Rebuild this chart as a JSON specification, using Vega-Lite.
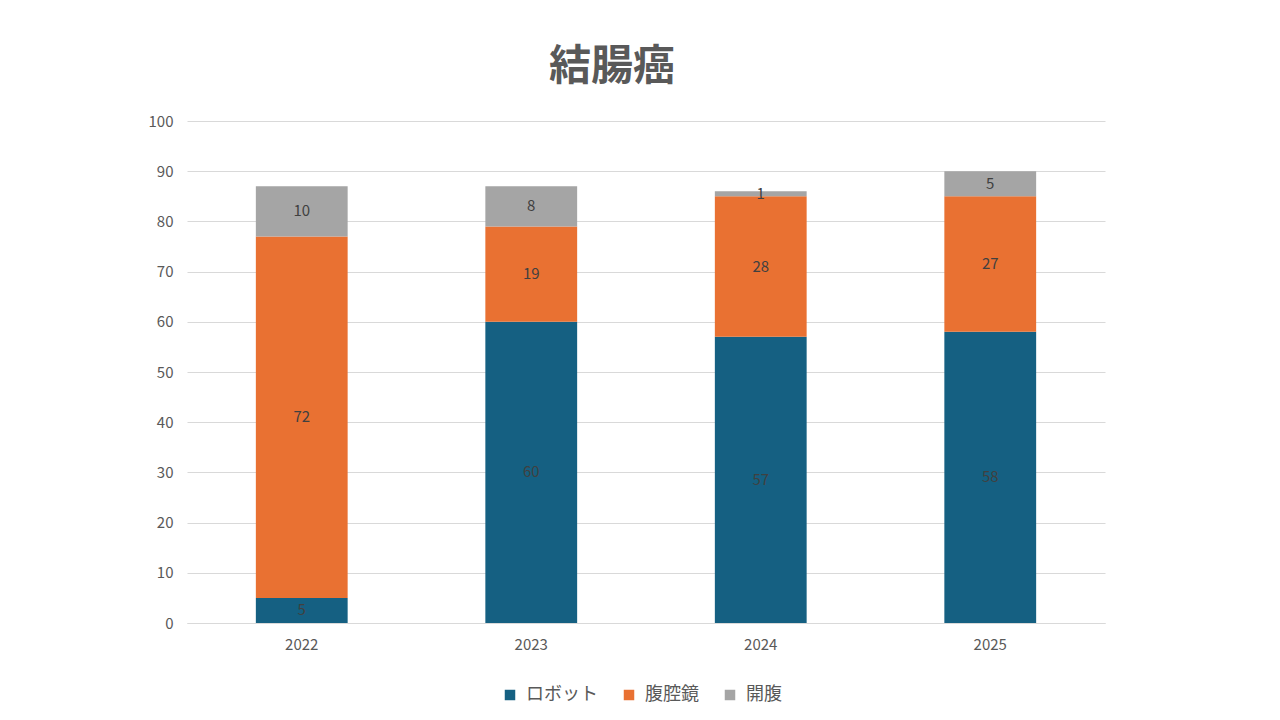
{
  "$schema": "https://vega.github.io/schema/vega-lite/v6.json",
  "width": 918,
  "height": 502,
  "autosize": {"type": "none"},
  "padding": {"left": 187, "top": 121, "right": 175, "bottom": 97},
  "background": "white",
  "title": {
    "text": "結腸癌",
    "font": "Noto Sans CJK JP",
    "fontSize": 42,
    "fontWeight": "bold",
    "color": "#595959",
    "anchor": "middle",
    "dx": -34,
    "offset": 25
  },
  "config": {
    "view": {"stroke": null},
    "font": "Noto Sans CJK JP"
  },
  "data": {
    "values": [
      {"year": "2022", "type": "ロボット", "ord": 1, "value": 5},
      {"year": "2022", "type": "腹腔鏡", "ord": 2, "value": 72},
      {"year": "2022", "type": "開腹", "ord": 3, "value": 10},
      {"year": "2023", "type": "ロボット", "ord": 1, "value": 60},
      {"year": "2023", "type": "腹腔鏡", "ord": 2, "value": 19},
      {"year": "2023", "type": "開腹", "ord": 3, "value": 8},
      {"year": "2024", "type": "ロボット", "ord": 1, "value": 57},
      {"year": "2024", "type": "腹腔鏡", "ord": 2, "value": 28},
      {"year": "2024", "type": "開腹", "ord": 3, "value": 1},
      {"year": "2025", "type": "ロボット", "ord": 1, "value": 58},
      {"year": "2025", "type": "腹腔鏡", "ord": 2, "value": 27},
      {"year": "2025", "type": "開腹", "ord": 3, "value": 5}
    ]
  },
  "transform": [
    {"stack": "value", "groupby": ["year"], "sort": [{"field": "ord", "order": "ascending"}], "as": ["y0", "y1"]},
    {"calculate": "(datum.y0 + datum.y1) / 2", "as": "ymid"}
  ],
  "encoding": {
    "x": {
      "field": "year",
      "type": "nominal",
      "scale": {"paddingInner": 0.6, "paddingOuter": 0.3},
      "axis": {
        "title": null,
        "labelAngle": 0,
        "labelFont": "Noto Sans CJK JP",
        "labelFontSize": 15,
        "labelColor": "#595959",
        "labelPadding": 14,
        "ticks": false,
        "domainColor": "#D9D9D9",
        "domainWidth": 1
      }
    }
  },
  "layer": [
    {
      "mark": {"type": "bar"},
      "encoding": {
        "y": {
          "field": "y0",
          "type": "quantitative",
          "scale": {"domain": [0, 100]},
          "axis": {
            "title": null,
            "values": [0, 10, 20, 30, 40, 50, 60, 70, 80, 90, 100],
            "labelFont": "Noto Sans CJK JP",
            "labelFontSize": 15,
            "labelColor": "#595959",
            "labelPadding": 14,
            "ticks": false,
            "domain": false,
            "gridColor": "#D9D9D9",
            "gridWidth": 1
          }
        },
        "y2": {"field": "y1"},
        "color": {
          "field": "type",
          "type": "nominal",
          "scale": {
            "domain": ["ロボット", "腹腔鏡", "開腹"],
            "range": ["#156082", "#E97132", "#A5A5A5"]
          },
          "legend": {
            "title": null,
            "orient": "none",
            "legendX": 314,
            "legendY": 565,
            "direction": "horizontal",
            "symbolType": "square",
            "symbolSize": 110,
            "symbolStrokeWidth": 0,
            "labelFont": "Noto Sans CJK JP",
            "labelFontSize": 18,
            "labelColor": "#595959",
            "columnPadding": 22,
            "labelOffset": 7
          }
        }
      }
    },
    {
      "mark": {"type": "text", "font": "Noto Sans CJK JP", "fontSize": 15, "color": "#404040", "baseline": "middle", "align": "center"},
      "encoding": {
        "y": {"field": "ymid", "type": "quantitative"},
        "text": {"field": "value", "type": "quantitative"}
      }
    }
  ]
}
